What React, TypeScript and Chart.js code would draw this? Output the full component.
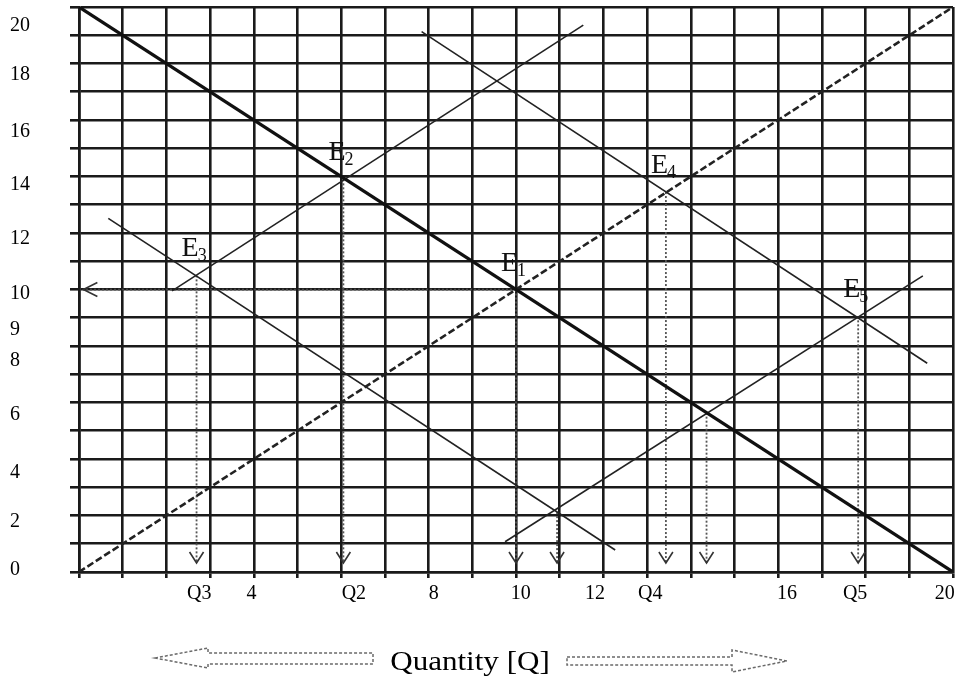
import React, { useEffect, useRef } from "react";
import { Chart, registerables } from "chart.js";

Chart.register(...registerables);

const FONT = "'Liberation Serif', 'Times New Roman', serif";

// ---- axes / grid ----
const gridMin = 0;
const gridMax = 20;
const gridStep = 1;
const xLabelText = ["Q3", "4", "Q2", "8", "10", "12", "Q4", "16", "Q5", "20"];
const xLabelAt = [2.75, 3.95, 6.29, 8.12, 10.11, 11.81, 13.07, 16.2, 17.76, 19.81];
const yLabelText = ["0", "2", "4", "6", "8", "9", "10", "12", "14", "16", "18", "20"];
const yLabelAt = [0.07, 1.79, 3.5, 5.56, 7.47, 8.58, 9.84, 11.79, 13.7, 15.59, 17.59, 19.35];
const axisTitle = "Quantity [Q]";

// ---- curves (Q, P) ----
const demandQ = [0, 20];
const demandP = [20, 0];
const supplyQ = [0, 20];
const supplyP = [0, 20];
const supply2Q = [2.13, 11.54];
const supply2P = [9.95, 19.36];
const supply3Q = [9.75, 19.31];
const supply3P = [1.07, 10.48];
const demand3Q = [0.67, 12.27];
const demand3P = [12.52, 0.78];
const demand4Q = [7.84, 19.41];
const demand4P = [19.13, 7.39];

// ---- equilibria ----
const eqName = ["1", "2", "3", "4", "5"];
const eqQ = [10, 6.05, 2.69, 13.43, 17.83];
const eqP = [10, 13.9, 10.5, 13.45, 9.05];

// ---- guide lines ----
const dropQ = [2.69, 6.05, 10, 10.94, 13.43, 14.36, 17.83];
const dropFromP = [10.5, 13.9, 10, 2.12, 13.45, 5.64, 9.05];
const dropToP = 0.32;
const priceGuideQ = [10, 0.1];
const priceGuideP = [10, 10];

function pts(qs: number[], ps: number[]) {
  return qs.map((q, i) => ({ x: q, y: ps[i] }));
}

function makeTicks(labelAt: number[], labelText: string[]) {
  const ticks: any[] = [];
  for (let v = gridMin; v <= gridMax; v += gridStep) ticks.push({ value: v, grid: true });
  labelAt.forEach((v, i) => ticks.push({ value: v, lab: labelText[i] }));
  return ticks.sort((a, b) => a.value - b.value);
}

const GRID = "#1a1a1a";
const gridColor = (c: any) => (c.tick && c.tick.grid ? GRID : "rgba(0,0,0,0)");

const overlay = {
  id: "overlay",
  afterDatasetsDraw(chart: any) {
    const ctx = chart.ctx;
    const xs = chart.scales.x;
    const ys = chart.scales.y;
    ctx.save();
    chart.data.datasets.forEach((ds: any, i: number) => {
      if (!ds.arrow) return;
      const meta = chart.getDatasetMeta(i);
      const p = meta.data[meta.data.length - 1];
      ctx.beginPath();
      ctx.setLineDash([]);
      ctx.strokeStyle = "#333";
      ctx.lineWidth = 1.6;
      if (ds.arrow === "down") {
        ctx.moveTo(p.x - 7, p.y - 11);
        ctx.lineTo(p.x, p.y);
        ctx.lineTo(p.x + 7, p.y - 11);
      } else {
        ctx.moveTo(p.x + 14, p.y - 7);
        ctx.lineTo(p.x, p.y);
        ctx.lineTo(p.x + 14, p.y + 7);
      }
      ctx.stroke();
    });
    ctx.fillStyle = "#111";
    ctx.textBaseline = "alphabetic";
    ctx.textAlign = "left";
    eqName.forEach((n, i) => {
      const x = xs.getPixelForValue(eqQ[i]) - 15;
      const y = ys.getPixelForValue(eqP[i]) - 19;
      ctx.font = `28px ${FONT}`;
      ctx.fillText("E", x, y);
      const w = ctx.measureText("E").width;
      ctx.font = `18px ${FONT}`;
      ctx.fillText(n, x + w - 1, y + 5);
    });
    ctx.restore();
  },
  afterDraw(chart: any) {
    const ctx = chart.ctx;
    ctx.save();
    ctx.fillStyle = "#000";
    ctx.font = `27px ${FONT}`;
    ctx.textAlign = "center";
    ctx.textBaseline = "alphabetic";
    ctx.translate(470, 670);
    ctx.scale(1.15, 1);
    ctx.fillText(axisTitle, 0, 0);
    const dpr = chart.currentDevicePixelRatio || 1;
    ctx.setTransform(dpr, 0, 0, dpr, 0, 0);
    ctx.strokeStyle = "#6a6a6a";
    ctx.lineWidth = 1.5;
    ctx.setLineDash([3, 2]);
    ctx.beginPath();
    ctx.moveTo(155, 658);
    ctx.lineTo(208, 648);
    ctx.lineTo(208, 653);
    ctx.lineTo(373, 653);
    ctx.lineTo(373, 664);
    ctx.lineTo(208, 664);
    ctx.lineTo(208, 668);
    ctx.closePath();
    ctx.stroke();
    ctx.beginPath();
    ctx.moveTo(567, 657);
    ctx.lineTo(732, 657);
    ctx.lineTo(732, 650);
    ctx.lineTo(787, 661);
    ctx.lineTo(732, 672);
    ctx.lineTo(732, 665);
    ctx.lineTo(567, 665);
    ctx.closePath();
    ctx.stroke();
    ctx.restore();
  },
};

export default function App() {
  const ref = useRef<HTMLCanvasElement>(null);
  useEffect(() => {
    const thin = { borderColor: "#222", borderWidth: 1.6, showLine: true, pointRadius: 0 };
    const datasets: any[] = [
      { data: pts(demandQ, demandP), borderColor: "#111", borderWidth: 3.2, showLine: true, pointRadius: 0 },
      { data: pts(supplyQ, supplyP), borderColor: "#222", borderWidth: 2.6, borderDash: [7, 3], showLine: true, pointRadius: 0 },
      { data: pts(supply2Q, supply2P), ...thin },
      { data: pts(supply3Q, supply3P), ...thin },
      { data: pts(demand3Q, demand3P), ...thin },
      { data: pts(demand4Q, demand4P), ...thin },
      {
        data: pts(priceGuideQ, priceGuideP),
        borderColor: "#444",
        borderWidth: 1.8,
        borderDash: [2, 2],
        showLine: true,
        pointRadius: 0,
        arrow: "left",
      },
    ];
    dropQ.forEach((q, i) => {
      datasets.push({
        data: [
          { x: q, y: dropFromP[i] },
          { x: q, y: dropToP },
        ],
        borderColor: "#555",
        borderWidth: 1.8,
        borderDash: [2, 2],
        showLine: true,
        pointRadius: 0,
        arrow: "down",
      });
    });

    const chart = new Chart(ref.current as HTMLCanvasElement, {
      type: "scatter",
      data: { datasets },
      options: {
        animation: false,
        responsive: false,
        layout: { padding: { left: 10, top: 7, right: 7, bottom: 0 } },
        plugins: {
          legend: { display: false },
          tooltip: { enabled: false },
          title: { display: false },
        },
        elements: { point: { radius: 0 }, line: { tension: 0 } },
        scales: {
          x: {
            type: "linear",
            min: gridMin,
            max: gridMax,
            afterBuildTicks: (s: any) => {
              s.ticks = makeTicks(xLabelAt, xLabelText);
            },
            afterFit: (s: any) => {
              s.height = 108;
              s.paddingLeft = 0;
              s.paddingRight = 0;
            },
            grid: { color: gridColor, lineWidth: 2.6, tickLength: 6 },
            border: { color: GRID, width: 2.6 },
            ticks: {
              autoSkip: false,
              maxRotation: 0,
              minRotation: 0,
              padding: 4,
              color: "#000",
              font: { family: FONT, size: 20 },
              callback: (_v: any, i: number, t: any[]) => (t[i].lab !== undefined ? t[i].lab : ""),
            },
          },
          y: {
            type: "linear",
            min: gridMin,
            max: gridMax,
            afterBuildTicks: (s: any) => {
              s.ticks = makeTicks(yLabelAt, yLabelText);
            },
            afterFit: (s: any) => {
              s.width = 69;
              s.paddingTop = 0;
              s.paddingBottom = 0;
            },
            grid: { color: gridColor, lineWidth: 2.6, tickLength: 9 },
            border: { color: GRID, width: 2.6 },
            ticks: {
              autoSkip: false,
              crossAlign: "far",
              color: "#000",
              font: { family: FONT, size: 20 },
              callback: (_v: any, i: number, t: any[]) => (t[i].lab !== undefined ? t[i].lab : ""),
            },
          },
        },
      } as any,
      plugins: [overlay],
    });
    return () => chart.destroy();
  }, []);
  return (
    <div style={{ position: "fixed", left: 0, top: 0, width: 960, height: 680, background: "#fff" }}>
      <canvas ref={ref} width={960} height={680} style={{ width: 960, height: 680, display: "block" }} />
    </div>
  );
}
